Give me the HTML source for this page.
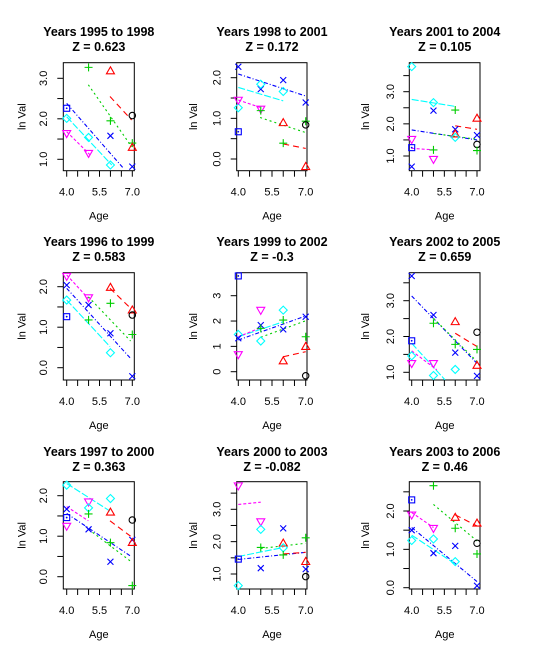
<!DOCTYPE html>
<html><head><meta charset="utf-8"><style>
html,body{margin:0;padding:0;background:#fff}
svg{display:block;font-family:"Liberation Sans",Arial,sans-serif}
</style></head><body>
<svg id="chart" width="544" height="653" viewBox="0 0 544 653" xmlns="http://www.w3.org/2000/svg"></svg>
<script>
// ---- data (age, ln value, symbol) per panel ----
const TITLES = ["Years 1995 to 1998","Years 1998 to 2001","Years 2001 to 2004","Years 1996 to 1999","Years 1999 to 2002","Years 2002 to 2005","Years 1997 to 2000","Years 2000 to 2003","Years 2003 to 2006"];
const ZVALS = ["0.623","0.172","0.105","0.583","-0.3","0.659","0.363","-0.082","0.46"];
const P1_AGE=[4,4,4,5,5,5,6,6,6,6,7,7,7,7];
const P1_VAL=[2.26,2.01,1.64,3.27,1.54,1.15,3.18,1.95,1.58,0.86,2.08,1.40,1.29,0.82];
const P1_SYM=['s','d','v','p','d','v','t','p','x','d','o','p','t','x'];
const P1_FIT=[['x',4,2.38,6.59,0.78],['d',4,2.05,6.06,0.86],['v',4,1.68,5.07,1.11],['p',4.99,2.84,6.97,1.31],['t',5.98,2.55,6.97,1.97]];
const P2_AGE=[4,4,4,4,5,5,5,5,6,6,6,6,7,7,7,7];
const P2_VAL=[2.27,1.26,1.45,0.67,1.72,1.84,1.23,1.19,1.94,1.66,0.89,0.39,1.39,0.93,0.84,-0.19];
const P2_SYM=['x','d','v','s','x','d','v','p','x','d','t','p','x','p','o','t'];
const P2_FIT=[['x',4,2.09,7,1.55],['d',4,1.76,6,1.43],['v',4,1.45,4.97,1.27],['p',4.97,1.02,7,0.65],['t',6,0.37,7,0.26]];
const P3_AGE=[4,4,4,4,5,5,5,5,6,6,6,6,7,7,7,7];
const P3_VAL=[3.78,1.52,1.26,0.67,2.66,2.41,1.19,0.90,2.43,1.83,1.68,1.58,2.17,1.65,1.36,1.17];
const P3_SYM=['d','v','s','x','d','x','p','v','p','x','t','d','t','x','o','p'];
const P3_FIT=[['d',4,2.76,6.02,2.54],['x',4,1.81,7,1.5],['p',5,1.7,7,1.52],['t',6,1.94,7,1.83],['v',4,1.24,5,1.19]];
const P4_AGE=[4,4,4,4,5,5,5,6,6,6,6,7,7,7,7];
const P4_VAL=[2.26,2.04,1.67,1.26,1.73,1.55,1.18,1.98,1.59,0.85,0.37,1.42,1.30,0.82,-0.21];
const P4_SYM=['v','x','d','s','v','x','p','t','p','x','d','t','o','p','x'];
const P4_FIT=[['v',4,2.29,4.99,1.71],['x',4,1.96,6.92,0.23],['d',4,1.67,5.98,0.52],['p',4.99,1.75,6.92,0.66],['t',5.98,1.96,6.92,1.47]];
const P5_AGE=[4,4,4,4,5,5,5,5,6,6,6,6,7,7,7,7];
const P5_VAL=[3.78,1.47,1.32,0.68,2.43,1.84,1.21,1.71,2.43,2.04,1.67,0.42,2.17,1.38,0.99,-0.16];
const P5_SYM=['s','d','x','v','v','x','d','p','d','p','x','t','x','p','t','o'];
const P5_FIT=[['x',4,1.25,7,2.2],['d',4,1.38,6,1.97],['v',4,1.38,5,1.74],['p',5,1.36,7,2.01],['t',6,0.59,7,0.79]];
const P6_AGE=[4,4,4,4,5,5,5,5,6,6,6,6,7,7,7,7];
const P6_VAL=[3.69,1.88,1.46,1.25,2.60,2.37,1.25,0.91,2.41,1.78,1.55,1.08,2.12,1.64,1.19,0.90];
const P6_SYM=['x','s','d','v','x','p','v','d','t','p','x','d','o','p','t','x'];
const P6_FIT=[['x',4,3.13,7,1.25],['p',5,2.51,7,1.3],['t',6,2.09,7,1.72],['d',4,1.81,5.53,0.79],['v',4,1.6,5.15,1.07]];
const P7_AGE=[4,4,4,4,5,5,5,5,6,6,6,6,7,7,7,7];
const P7_VAL=[2.26,1.67,1.46,1.25,1.85,1.70,1.55,1.17,1.93,1.59,0.84,0.37,1.40,0.91,0.84,-0.22];
const P7_SYM=['d','x','s','v','v','d','p','x','d','t','p','x','o','x','t','p'];
const P7_FIT=[['d',4,2.3,5.98,1.62],['v',4,1.73,4.99,1.38],['x',4,1.56,6.92,0.51],['p',5,1.17,7,0.35],['t',5.98,1.38,6.92,1.0]];
const P8_AGE=[4,4,4,5,5,5,5,6,6,6,6,7,7,7,7];
const P8_VAL=[3.73,1.46,0.64,2.62,2.38,1.82,1.18,2.41,1.95,1.81,1.59,2.12,1.38,1.15,0.92];
const P8_SYM=['v','s','d','v','d','p','x','x','t','d','p','p','t','x','o'];
const P8_FIT=[['v',4,3.15,5,3.22],['p',5,1.79,7,1.95],['d',4,1.54,6,1.82],['x',4,1.45,7,1.67],['t',6,1.62,7,1.67]];
const P9_AGE=[4,4,4,4,5,5,5,5,6,6,6,6,7,7,7,7];
const P9_VAL=[2.29,1.90,1.50,1.23,2.66,1.55,1.27,0.90,1.83,1.55,1.09,0.68,1.68,1.16,0.88,0.05];
const P9_SYM=['s','v','x','d','p','v','d','x','t','p','x','d','t','o','p','x'];
const P9_FIT=[['v',4,1.96,5,1.57],['p',5,2.17,7,1.22],['t',6,1.9,7,1.61],['x',4,1.57,7,0.16],['d',4,1.37,6,0.62]];
const AGE_TICKS=[4,4.5,5,5.5,6,6.5,7];
const AGE_LABELS=[4,5.5,7];
const Y_TICKS=[[1,1.5,2,2.5,3],[0,0.5,1,1.5,2],[1,1.5,2,2.5,3,3.5],[0,0.5,1,1.5,2],[0,1,2,3],[1,1.5,2,2.5,3,3.5],[0,0.5,1,1.5,2],[1,1.5,2,2.5,3,3.5],[0,0.5,1,1.5,2,2.5]];
const Y_LABELS=[["1.0","2.0","3.0"],["0.0","1.0","2.0"],["1.0","2.0","3.0"],["0.0","1.0","2.0"],["0","1","2","3"],["1.0","2.0","3.0"],["0.0","1.0","2.0"],["1.0","2.0","3.0"],["0.0","1.0","2.0"]];

const AGES=[P1_AGE,P2_AGE,P3_AGE,P4_AGE,P5_AGE,P6_AGE,P7_AGE,P8_AGE,P9_AGE];
const VALS=[P1_VAL,P2_VAL,P3_VAL,P4_VAL,P5_VAL,P6_VAL,P7_VAL,P8_VAL,P9_VAL];
const SYMS=[P1_SYM,P2_SYM,P3_SYM,P4_SYM,P5_SYM,P6_SYM,P7_SYM,P8_SYM,P9_SYM];
const FITS=[P1_FIT,P2_FIT,P3_FIT,P4_FIT,P5_FIT,P6_FIT,P7_FIT,P8_FIT,P9_FIT];

// ---- layout ----
const COLS=[{bx0:63.3,bx1:134.3,a4:66.7,a7:132.3,tl:43,yl:21.7,cx:98.8},
            {bx0:236.7,bx1:307,a4:238.3,a7:305.7,tl:216.7,yl:193,cx:272},
            {bx0:409.3,bx1:480,a4:411.7,a7:477,tl:390,yl:365,cx:444.7}];
const ROWS=[{by0:62.7,by1:170.7,off:0},{by0:272.7,by1:380,off:210},{by0:481.7,by1:589,off:420}];
// pixel refs (value, px) pairs for y axis per panel
const YREF=[[1,159.3,3,78.3],[0,159,2,77.7],[1,156,3,91.7],[0,367.7,2,286.7],[0,371.7,3,295.7],[1,372.3,3,300.7],[0,576.7,2,495.7],[1,574,3,509.3],[0,587.7,2,511]];
const COLOR={o:'#000000',t:'#FF0000',p:'#00CD00',x:'#0000FF',d:'#00FFFF',v:'#FF00FF',s:'#0000FF'};
const DASH={o:'',t:'6,4',p:'2,3',x:'4,2,1,2',d:'7,2',v:'3,2',s:'4,2'};
const NAMES={o:'circle',t:'triangle',p:'plus',x:'cross',d:'diamond',v:'down-triangle',s:'square'};

const NS='http://www.w3.org/2000/svg';
const svg=document.getElementById('chart');
function mk(tag,attrs,parent){const e=document.createElementNS(NS,tag);for(const k in attrs)e.setAttribute(k,attrs[k]);(parent||svg).appendChild(e);return e;}

for(let i=0;i<9;i++){
  const C=COLS[i%3],R=ROWS[Math.floor(i/3)],Y=YREF[i];
  const xs=a=>C.a4+(a-4)*(C.a7-C.a4)/3;
  const ys=v=>Y[1]+(v-Y[0])*(Y[3]-Y[1])/(Y[2]-Y[0]);
  const g=mk('g',{});
  
  
  const t1=mk('text',{x:C.cx,y:36+R.off,'text-anchor':'middle','font-size':'12.5','font-weight':'bold'},g);
  t1.textContent=TITLES[i];
  
  
  const t2=mk('text',{x:C.cx,y:51+R.off,'text-anchor':'middle','font-size':'12.5','font-weight':'bold'},g);
  t2.textContent='Z = '+ZVALS[i];
  
  
  const box=mk('rect',{x:C.bx0,y:R.by0,width:C.bx1-C.bx0,height:R.by1-R.by0,fill:'none',stroke:'#000','stroke-width':1},g);
  
  
  // x axis
  AGE_TICKS.forEach(a=>{const l=mk('line',{x1:xs(a),x2:xs(a),y1:R.by1,y2:R.by1+6,stroke:'#000'},g);
    
    });
  AGE_LABELS.forEach(a=>{const t=mk('text',{x:xs(a),y:R.by1+25,'text-anchor':'middle','font-size':'11'},g);
    t.textContent=a.toFixed(1);
    
    });
  const xl=mk('text',{x:C.cx,y:R.by1+49,'text-anchor':'middle','font-size':'11'},g);
  xl.textContent='Age';
  
  
  // y axis
  Y_TICKS[i].forEach(v=>{const l=mk('line',{x1:C.bx0-6,x2:C.bx0,y1:ys(v),y2:ys(v),stroke:'#000'},g);
    
    });
  Y_LABELS[i].forEach(s=>{const v=parseFloat(s),yy=ys(v);
    const t=mk('text',{x:C.tl+4,y:yy,'text-anchor':'middle','font-size':'11',transform:`rotate(-90 ${C.tl+4} ${yy})`},g);
    t.textContent=s;
    
    });
  const cy=(R.by0+R.by1)/2;
  const yl=mk('text',{x:C.yl+4,y:cy,'text-anchor':'middle','font-size':'11',transform:`rotate(-90 ${C.yl+4} ${cy})`},g);
  yl.textContent='ln Val';
  
  
  // fit lines
  FITS[i].forEach(f=>{const l=mk('line',{x1:xs(f[1]),y1:ys(f[2]),x2:xs(f[3]),y2:ys(f[4]),stroke:COLOR[f[0]],'stroke-width':1.1,'stroke-dasharray':DASH[f[0]]},g);
    
    });
  // points
  AGES[i].forEach((a,k)=>{
    const px=xs(a),py=ys(VALS[i][k]),s=SYMS[i][k],c=COLOR[s];let e;
    const st={fill:'none',stroke:c,'stroke-width':1.1};
    if(s==='o')e=mk('circle',Object.assign({cx:px,cy:py,r:3.2},st),g);
    else if(s==='t')e=mk('path',Object.assign({d:`M${px} ${py-4.2}L${px+4} ${py+2.8}L${px-4} ${py+2.8}Z`},st),g);
    else if(s==='v')e=mk('path',Object.assign({d:`M${px} ${py+4.2}L${px+4} ${py-2.8}L${px-4} ${py-2.8}Z`},st),g);
    else if(s==='p')e=mk('path',Object.assign({d:`M${px-4} ${py}H${px+4}M${px} ${py-4}V${py+4}`},st),g);
    else if(s==='x')e=mk('path',Object.assign({d:`M${px-3} ${py-3}L${px+3} ${py+3}M${px-3} ${py+3}L${px+3} ${py-3}`},st),g);
    else if(s==='d')e=mk('path',Object.assign({d:`M${px} ${py-4}L${px+4} ${py}L${px} ${py+4}L${px-4} ${py}Z`},st),g);
    else {e=mk('g',{},g);mk('rect',Object.assign({x:px-3,y:py-3,width:6,height:6},st),e);mk('circle',{cx:px,cy:py,r:0.9,fill:c},e);}
    
    
  });
}
</script>
</body></html>
